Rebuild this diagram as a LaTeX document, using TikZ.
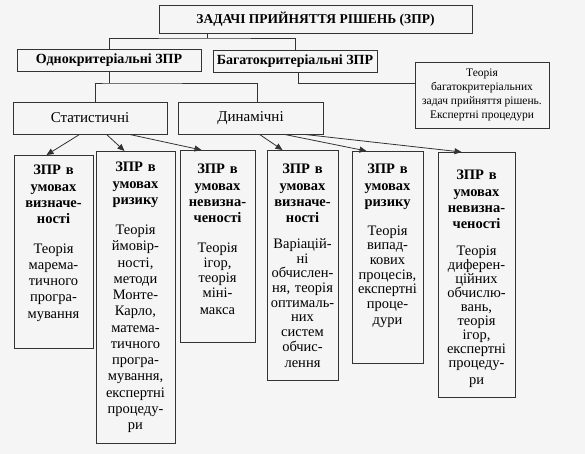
\documentclass[tikz,border=0pt]{standalone}
\usepackage{fontspec}
\setmainfont{Liberation Serif}
\usetikzlibrary{arrows.meta}

\begin{document}
\begin{tikzpicture}[x=1pt, y=-1pt,
  box/.style={draw=black!80, line width=0.9pt, inner sep=0pt},
  cell/.style={draw=black!80, line width=1pt, anchor=north, inner sep=0pt},
  celltext/.style={anchor=north, align=center, inner sep=2pt, font=\fontsize{14.5}{16.3}\selectfont},
  link/.style={draw=black!80, line width=0.8pt},
  arr/.style={link, -{Triangle[length=7pt, width=6pt]}}]
  \fill[black!4] (0,0) rectangle (585,454);

  \node[box, minimum width=313pt, minimum height=28pt, font=\fontsize{13.5}{15}\selectfont\bfseries] (zpr) at (315.5,19) {ЗАДАЧІ ПРИЙНЯТТЯ РІШЕНЬ (ЗПР)};
  \node[box, minimum width=184pt, minimum height=22pt, font=\fontsize{14}{16}\selectfont\bfseries] (odno) at (109,60) {Однокритеріальні ЗПР};
  \node[box, minimum width=164pt, minimum height=22pt, font=\fontsize{14}{16}\selectfont\bfseries] (baga) at (295,61) {Багатокритеріальні ЗПР};
  \node[box, minimum width=134pt, minimum height=66pt, align=center, font=\fontsize{11.5}{14}\selectfont] (theo) at (482,95) {Теорія\\багатокритеріальних\\задач прийняття рішень.\\Експертні процедури};
  \node[box, minimum width=154pt, minimum height=32pt, font=\fontsize{15}{17}\selectfont] (stat) at (90,118) {Статистичні};
  \node[box, minimum width=145pt, minimum height=32pt, font=\fontsize{15}{17}\selectfont] (dyn) at (250.5,118) {Динамічні};

  \coordinate (j1) at (207,38);
  \draw[link] (j1) -- (j1 |- zpr.south);
  \draw[link] (odno.north) |- (j1) -| (baga.north);
  \coordinate (j2) at (109,83);
  \draw[link] (odno.south) -- (j2);
  \draw[link] ([xshift=5pt]stat.north) |- (j2) -| ([xshift=6.5pt]dyn.north);
  \draw[link] ([xshift=3pt]baga.south) |- ([yshift=12pt]theo.west);

  \node[cell, minimum width=79pt, minimum height=193pt] (b1) at (53.5,155) {};
  \node[cell, minimum width=79pt, minimum height=292pt] (b2) at (135.5,151) {};
  \node[cell, minimum width=75pt, minimum height=192pt] (b3) at (217.5,150) {};
  \node[cell, minimum width=71pt, minimum height=230pt] (b4) at (302.5,150) {};
  \node[cell, minimum width=71pt, minimum height=212pt] (b5) at (387.5,151) {};
  \node[cell, minimum width=77pt, minimum height=245pt] (b6) at (476.5,152) {};

  \node[celltext, text width=75pt] (b1t) at ([yshift=-8pt]b1.north) {\bfseries ЗПР в\\умовах\\визначе-\\ності\par
    \vspace{14pt}\fontsize{14.5}{16}\mdseries\selectfont Теорія\\марема-\\тичного\\програ-\\мування};
  \node[celltext, text width=75pt] (b2t) at ([yshift=-9pt]b2.north) {\bfseries ЗПР в\\умовах\\ризику\par
    \vspace{14pt}\fontsize{14.5}{16.25}\mdseries\selectfont Теорія\\ймовір-\\ності,\\методи\\Монте-\\Карло,\\матема-\\тичного\\програ-\\мування,\\експертні\\процеду-\\ри};
  \node[celltext, text width=71pt] (b3t) at ([yshift=-12pt]b3.north) {\bfseries ЗПР в\\умовах\\невизна-\\ченості\par
    \vspace{15pt}\fontsize{14.5}{15}\mdseries\selectfont Теорія\\ігор,\\теорія\\міні-\\макса};
  \node[celltext, text width=67pt] (b4t) at ([yshift=-12pt]b4.north) {\bfseries ЗПР в\\умовах\\визначе-\\ності\par
    \vspace{11pt}\fontsize{14.5}{14.7}\mdseries\selectfont Варіацій-\\ні\\обчислен-\\ня, теорія\\оптималь-\\них\\систем\\обчис-\\лення};
  \node[celltext, text width=67pt] (b5t) at ([yshift=-11pt]b5.north) {\bfseries ЗПР в\\умовах\\ризику\par
    \vspace{14pt}\fontsize{14.5}{14.7}\mdseries\selectfont Теорія\\випад-\\кових\\процесів,\\експертні\\проце-\\дури};
  \node[celltext, text width=73pt] (b6t) at ([yshift=-16pt]b6.north) {\bfseries ЗПР в\\умовах\\невизна-\\ченості\par
    \vspace{13pt}\fontsize{14.5}{14}\mdseries\selectfont Теорія\\диферен-\\ційних\\обчислю-\\вань,\\теорія\\ігор,\\експертні\\процеду-\\ри};

  \draw[arr] ([xshift=67pt]stat.south west) -- ([xshift=33pt]b1.north west);
  \draw[arr] ([xshift=94pt]stat.south west) -- ([xshift=29pt]b2.north west);
  \draw[arr] ([xshift=117pt]stat.south west) -- ([xshift=22pt]b3.north west);
  \draw[arr] ([xshift=82pt]dyn.south west) -- ([xshift=16pt]b4.north west);
  \draw[arr] ([xshift=107pt]dyn.south west) -- ([xshift=15pt]b5.north west);
  \draw[arr] ([xshift=127pt]dyn.south west) -- ([xshift=24pt]b6.north west);
\end{tikzpicture}
\end{document}
